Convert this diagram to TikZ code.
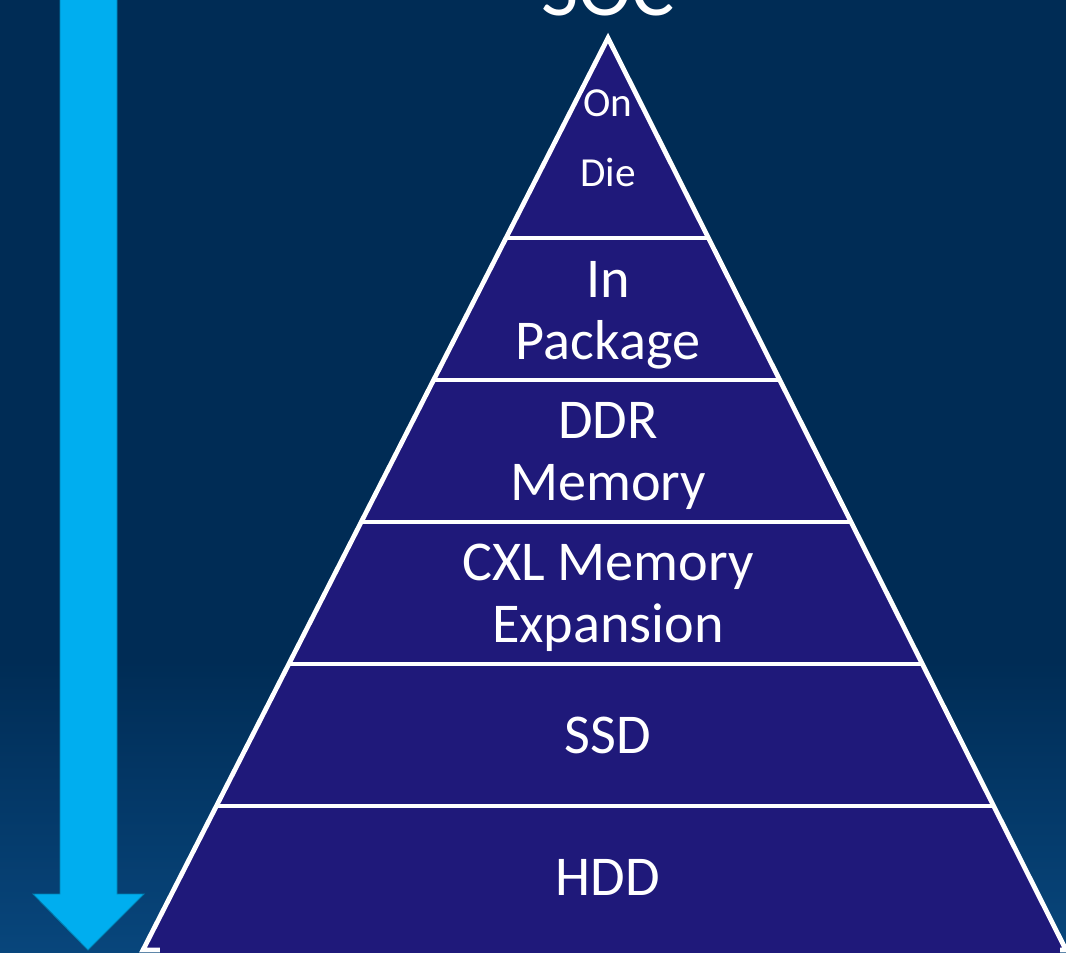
\documentclass[tikz,border=0pt]{standalone}
\usepackage{fontspec}
\setmainfont{Carlito}
\definecolor{bgnavy}{HTML}{002C55}
\definecolor{bgglow}{HTML}{08467C}
\definecolor{tierfill}{HTML}{1F197A}
\definecolor{arrowcyan}{HTML}{00AEEF}

\begin{document}
\begin{tikzpicture}[
  x=0.02cm, y=-0.02cm,
  tier/.style={fill=tierfill, draw=white, line width=0.095cm, line join=miter},
  divider/.style={draw=white, line width=0.085cm},
  label/.style={text=white, anchor=base, inner sep=0pt, font=\fontsize{32}{38}\selectfont},
  smalllabel/.style={label, font=\fontsize{23.5}{28}\selectfont},
  biglabel/.style={label, font=\fontsize{46}{52}\selectfont},
  godown/.style={fill=arrowcyan, draw=arrowcyan!75!black, line width=0.5pt}
]
\clip (0,0) rectangle (1066,953);
\fill[bgnavy] (0,0) rectangle (1066,953);
\shade[top color=bgnavy, bottom color=bgglow] (0,660) rectangle (1066,953);

% arrow on the left
\filldraw[godown] (60,-2) -- (117,-2) -- (117,894) -- (144,894) -- (88,950)
  -- (33,894) -- (60,894) -- cycle;

% pyramid
\coordinate (apex) at (608,38);
\coordinate (baseleft) at (143,950);
\coordinate (baseright) at (1066,950);
\filldraw[tier] (apex) -- (baseleft) -- (baseright) -- cycle;
\fill[tierfill] (160,944) rectangle (1060,956);
\draw[divider] (506,238) -- (708,238);
\draw[divider] (433.6,380) -- (779.7,380);
\draw[divider] (361.2,522) -- (851,522);
\draw[divider] (288.8,664) -- (922.3,664);
\draw[divider] (216.4,806) -- (993.5,806);

% labels
\node[biglabel] (soc) at (608,16) {SOC};
\node[smalllabel] (on) at (608,117) {On};
\node[smalllabel] (die) at (608,187) {Die};
\node[label] (in) at (608,297) {In};
\node[label] (package) at (608,359) {Package};
\node[label] (ddr) at (608,438) {DDR};
\node[label] (memory) at (608,500) {Memory};
\node[label] (cxl) at (608,580) {CXL Memory};
\node[label] (expansion) at (608,642) {Expansion};
\node[label] (ssd) at (608,753) {SSD};
\node[label] (hdd) at (608,895) {HDD};
\end{tikzpicture}
\end{document}
